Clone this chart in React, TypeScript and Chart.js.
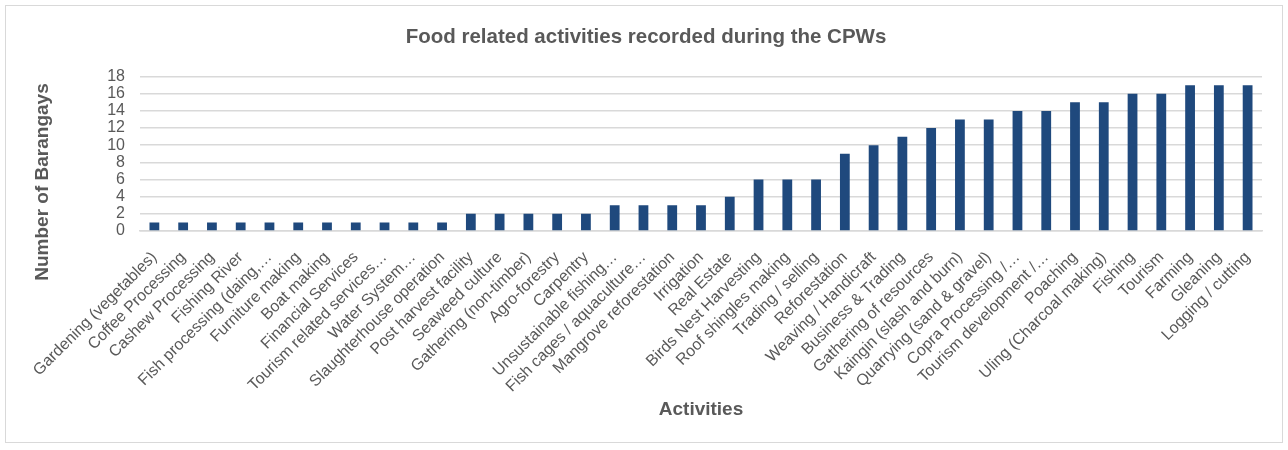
import React, { useEffect, useRef } from "react";
import { Chart, registerables } from "chart.js";

Chart.register(...registerables);

const activities: string[] = [
  "Gardening (vegetables)",
  "Coffee Processing",
  "Cashew Processing",
  "Fishing River",
  "Fish processing (daing,…",
  "Furniture making",
  "Boat making",
  "Financial Services",
  "Tourism related services…",
  "Water System…",
  "Slaughterhouse operation",
  "Post harvest facility",
  "Seaweed culture",
  "Gathering (non-timber)",
  "Agro-forestry",
  "Carpentry",
  "Unsustainable fishing…",
  "Fish cages / aquaculture…",
  "Mangrove reforestation",
  "Irrigation",
  "Real Estate",
  "Birds Nest Harvesting",
  "Roof shingles making",
  "Trading / selling",
  "Reforestation",
  "Weaving / Handicraft",
  "Business & Trading",
  "Gathering of resources",
  "Kaingin (slash and burn)",
  "Quarrying (sand & gravel)",
  "Copra Processing /…",
  "Tourism development /…",
  "Poaching",
  "Uling (Charcoal making)",
  "Fishing",
  "Tourism",
  "Farming",
  "Gleaning",
  "Logging / cutting",
];

const barangayCounts: number[] = [
  1, 1, 1, 1, 1, 1, 1, 1, 1, 1, 1,
  2, 2, 2, 2, 2,
  3, 3, 3, 3,
  4,
  6, 6, 6,
  9, 10, 11, 12, 13, 13, 14, 14, 15, 15, 16, 16, 17, 17, 17,
];

const yTicks: number[] = [0, 2, 4, 6, 8, 10, 12, 14, 16, 18];

const chartTitle = "Food related activities recorded during the CPWs";
const xTitle = "Activities";
const yTitle = "Number of Barangays";

const FONT = "'Liberation Sans', Arial, sans-serif";
const TEXT = "#595959";
const GRID = "#d9d9d9";
const BAR = "#1f497d";

// Vertical axis title, drawn beside the value axis
const yTitlePlugin = {
  id: "yTitleText",
  afterDraw(chart: any) {
    const { ctx } = chart;
    ctx.save();
    ctx.translate(37, 176);
    ctx.rotate(-Math.PI / 2);
    ctx.fillStyle = TEXT;
    ctx.font = `bold 19px ${FONT}`;
    ctx.textAlign = "center";
    ctx.textBaseline = "middle";
    ctx.fillText(yTitle, 0, 0);
    ctx.restore();
  },
};

export default function App() {
  const canvasRef = useRef<HTMLCanvasElement | null>(null);

  useEffect(() => {
    if (!canvasRef.current) return;
    const chart = new Chart(canvasRef.current, {
      type: "bar",
      data: {
        labels: activities,
        datasets: [
          {
            data: barangayCounts,
            backgroundColor: BAR,
            borderWidth: 0,
            categoryPercentage: 1,
            barPercentage: 0.34,
          },
        ],
      },
      plugins: [yTitlePlugin],
      options: {
        animation: false,
        responsive: true,
        maintainAspectRatio: false,
        layout: { padding: { left: 24, right: 20, top: 19, bottom: 0 } },
        plugins: {
          legend: { display: false },
          tooltip: { enabled: false },
          title: {
            display: true,
            text: chartTitle,
            color: TEXT,
            font: { family: FONT, size: 20.5, weight: "bold" },
            padding: { top: 0, bottom: 27 },
          },
        },
        scales: {
          x: {
            offset: true,
            grid: { display: false },
            border: { display: true, color: GRID, width: 1.5 },
            ticks: {
              autoSkip: false,
              maxRotation: 45,
              minRotation: 45,
              color: TEXT,
              padding: 9,
              font: { family: FONT, size: 16 },
            },
            title: {
              display: true,
              text: xTitle,
              color: TEXT,
              font: { family: FONT, size: 19, weight: "bold" },
              padding: { top: 0, bottom: 21 },
            },
            afterFit: (scale: any) => {
              scale.height = 211;
            },
          },
          y: {
            min: 0,
            max: 18,
            afterBuildTicks: (scale: any) => {
              scale.ticks = yTicks.map((v) => ({ value: v }));
            },
            grid: { color: GRID, lineWidth: 1.5, drawTicks: false },
            border: { display: false },
            ticks: {
              autoSkip: false,
              color: TEXT,
              padding: 15,
              font: { family: FONT, size: 16 },
            },
            title: { display: false },
            afterFit: (scale: any) => {
              scale.width = 110;
            },
          },
        },
      },
    });
    return () => chart.destroy();
  }, []);

  return (
    <div
      style={{
        position: "absolute",
        left: 5,
        top: 5,
        width: 1278,
        height: 438,
        border: "1px solid #d9d9d9",
        background: "#fff",
        boxSizing: "border-box",
      }}
    >
      <canvas ref={canvasRef} />
    </div>
  );
}
